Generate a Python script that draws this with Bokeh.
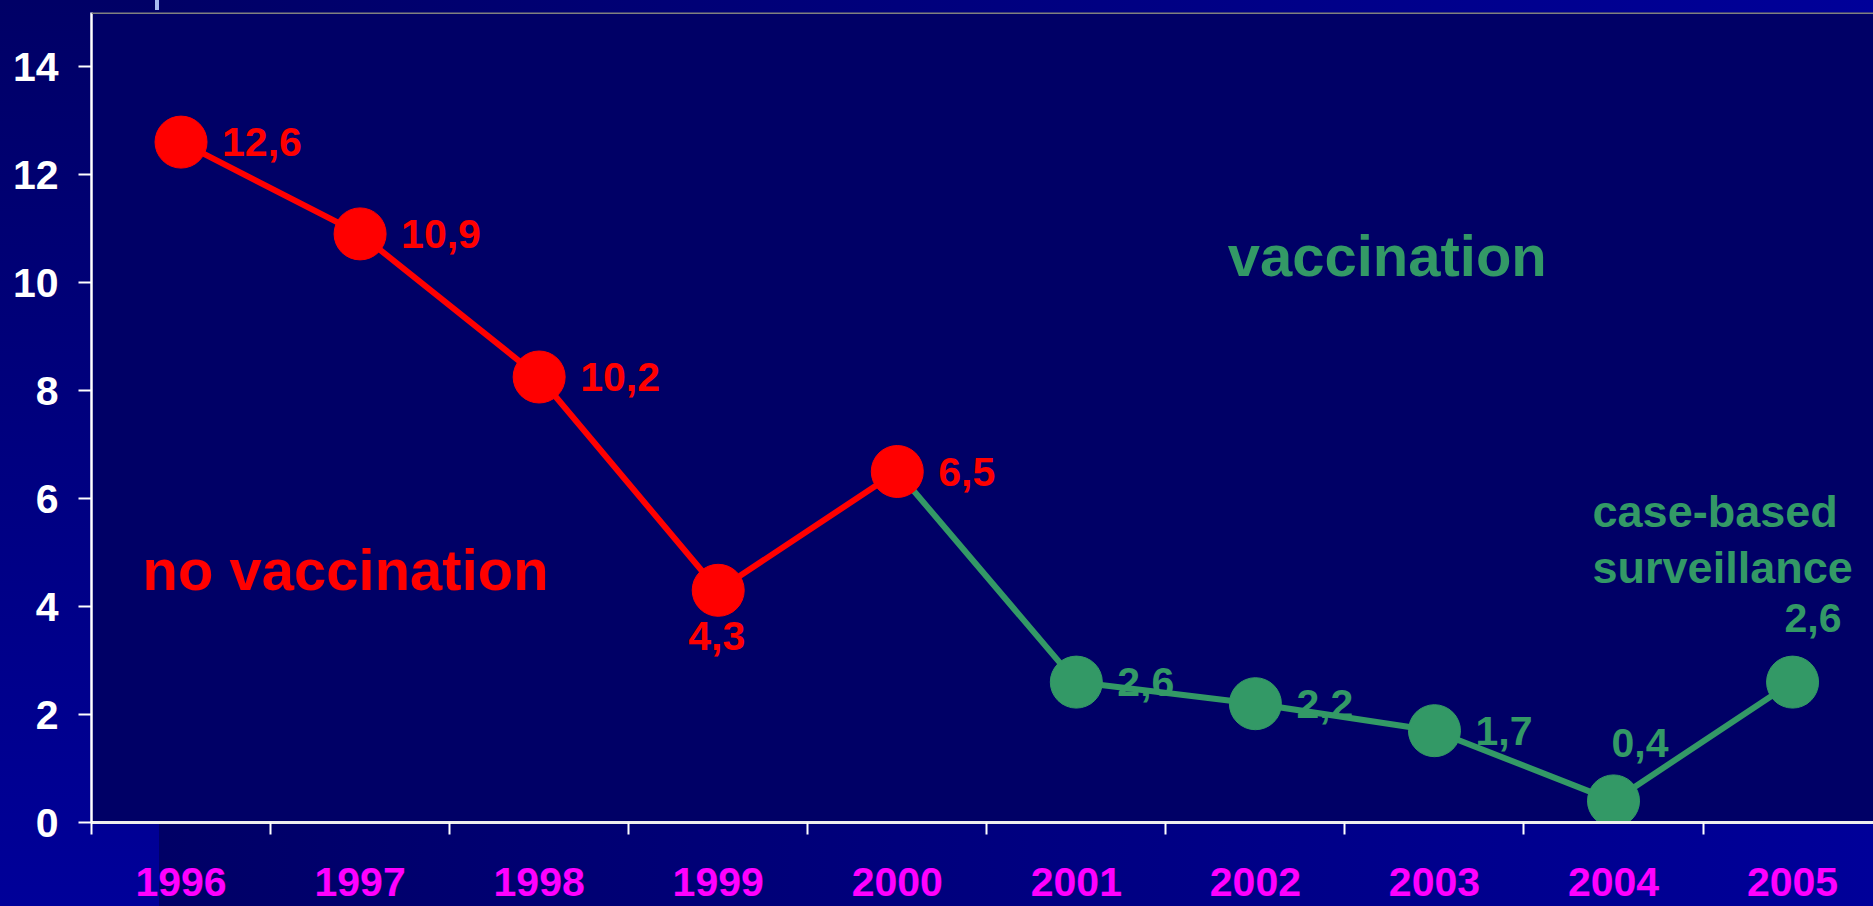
from bokeh.plotting import figure
from bokeh.models import ColumnDataSource, FixedTicker, Range1d, Span
from bokeh.core.properties import value
from bokeh.embed import file_html
from bokeh.resources import INLINE

# ---- data ----
years = ["1996", "1997", "1998", "1999", "2000", "2001", "2002", "2003", "2004", "2005"]
rates = [12.6, 10.9, 8.25, 4.3, 6.5, 2.6, 2.2, 1.7, 0.4, 2.6]
rate_labels = ["12,6", "10,9", "10,2", "4,3", "6,5", "2,6", "2,2", "1,7", "0,4", "2,6"]
y_ticks = [0, 2, 4, 6, 8, 10, 12, 14]
n_no_vacc = 5  # first five years: no vaccination

RED = "#FF0000"
GREEN = "#339966"
MAGENTA = "#FF00FF"
FONT = "Liberation Sans"

xc = [i + 0.5 for i in range(len(years))]

# label placement (style): align, x_offset, y_offset (text centre relative to point)
label_style = {
    "right": ("left", 41, 0),
    "below": ("left", -30, 46),
    "above4": ("left", -2, -58),
    "above5": ("left", -8, -64),
}
label_pos = ["right", "right", "right", "below", "right",
             "right", "right", "right", "above4", "above5"]

p = figure(width=1873, height=906, output_backend="svg", toolbar_location=None,
           x_range=Range1d(0, 9.952), y_range=Range1d(0, 15.0),
           min_border_left=91, min_border_right=0, min_border_top=12, min_border_bottom=84)
p.border_fill_color = None
p.border_fill_alpha = 0
p.background_fill_color = "#000066"
p.outline_line_color = None
p.grid.visible = False

# x axis
xa = p.xaxis[0]
xa.ticker = FixedTicker(ticks=xc, minor_ticks=list(range(len(years) + 1)))
xa.major_label_overrides = {x: y for x, y in zip(xc, years)}
xa.major_tick_line_color = None
xa.major_tick_out = 0
xa.major_tick_in = 0
xa.minor_tick_line_color = "white"
xa.minor_tick_line_width = 2
xa.minor_tick_out = 12
xa.minor_tick_in = 0
xa.axis_line_color = "#EEEEEE"
xa.axis_line_width = 3
xa.major_label_standoff = 33
xa.major_label_text_font = FONT
xa.major_label_text_font_style = "bold"
xa.major_label_text_font_size = "41px"
xa.major_label_text_color = MAGENTA

# y axis
ya = p.yaxis[0]
ya.ticker = FixedTicker(ticks=y_ticks)
ya.minor_tick_line_color = None
ya.major_tick_line_color = "white"
ya.major_tick_line_width = 2
ya.major_tick_out = 13
ya.major_tick_in = 0
ya.axis_line_color = "white"
ya.axis_line_width = 2.5
ya.major_label_standoff = 20
ya.major_label_text_font = FONT
ya.major_label_text_font_style = "bold"
ya.major_label_text_font_size = "41px"
ya.major_label_text_color = "white"

# top border line of the frame
p.add_layout(Span(location=15.0, dimension="width", line_color="#808080", line_width=3))

# lines
p.line(xc[:n_no_vacc], rates[:n_no_vacc], line_color=RED, line_width=6)
p.line(xc[n_no_vacc - 1:], rates[n_no_vacc - 1:], line_color=GREEN, line_width=6)

# markers
colors = [RED if i < n_no_vacc else GREEN for i in range(len(years))]
src = ColumnDataSource(dict(x=xc, y=rates, c=colors, t=rate_labels,
                            align=[label_style[k][0] for k in label_pos],
                            xo=[label_style[k][1] for k in label_pos],
                            yo=[label_style[k][2] for k in label_pos]))
p.scatter("x", "y", source=src, size=52, fill_color="c", line_color="c", line_width=1)

# value labels
p.text("x", "y", text="t", source=src, text_color="c", text_align="align",
       text_baseline="middle", x_offset="xo", y_offset="yo",
       text_font=value(FONT), text_font_style="bold", text_font_size="41px")

# annotation texts
p.text(x=[0.285], y=[4.69], text=["no vaccination"], text_color=RED,
       text_align="left", text_baseline="middle",
       text_font=value(FONT), text_font_style="bold", text_font_size="58px")
p.text(x=[6.345], y=[10.5], text=["vaccination"], text_color=GREEN,
       text_align="left", text_baseline="middle",
       text_font=value(FONT), text_font_style="bold", text_font_size="58px")
p.text(x=[8.383, 8.383], y=[5.76, 4.73], text=["case-based", "surveillance"],
       text_color=GREEN, text_align="left", text_baseline="middle",
       text_font=value(FONT), text_font_style="bold", text_font_size="45px")

css = ("<style>html{min-height:100%;background:"
       "linear-gradient(#a8bbf0,#a8bbf0) 155px 0/4px 10px no-repeat,"
       "linear-gradient(to right,#000066,#000099) 159px 0/calc(100% - 159px) 100% no-repeat,"
       "linear-gradient(to bottom,#000066,#000099) 0 0/100% 100% no-repeat;"
       "background-color:#000080;}body{background:transparent;}</style></head>")
open("out.html", "w").write(file_html(p, INLINE).replace("</head>", css, 1))
